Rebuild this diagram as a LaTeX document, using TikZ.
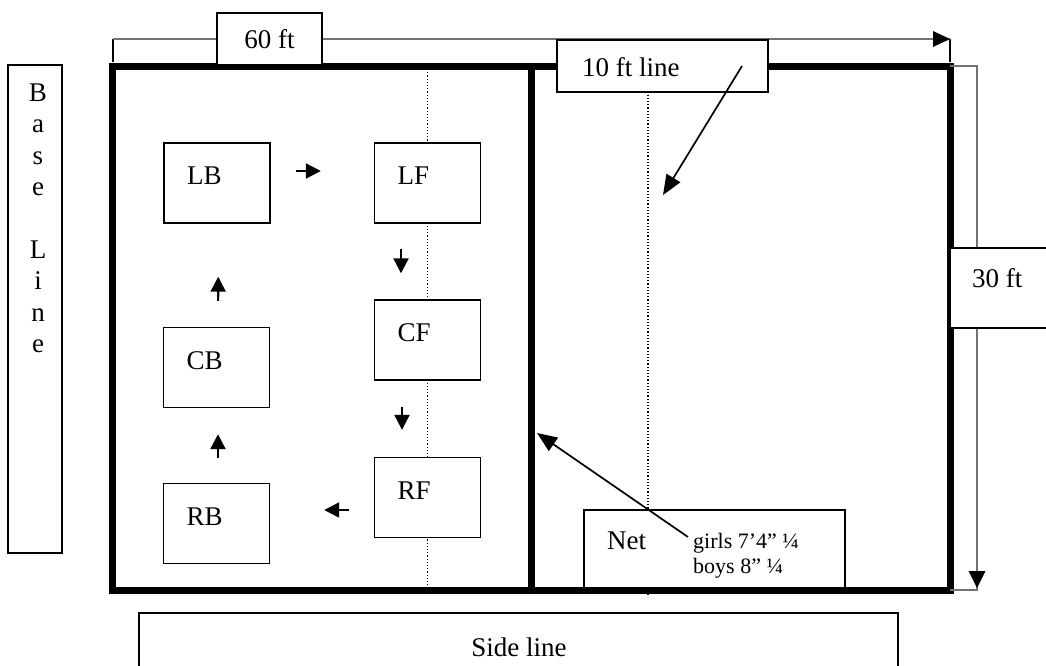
\documentclass[tikz,border=0pt]{standalone}
\usepackage{fontspec}
\setmainfont{Liberation Serif}
\usetikzlibrary{arrows.meta}
\begin{document}
\begin{tikzpicture}[x=1pt,y=-1pt,
  txt/.style={font=\fontsize{27}{31.4}\selectfont, inner sep=0pt},
  smalltxt/.style={font=\fontsize{22}{25}\selectfont, inner sep=0pt},
  thinbox/.style={draw=black, line width=1.4pt, fill=white, inner sep=0pt},
  posbox/.style={thinbox, minimum width=106pt, minimum height=80pt, text width=60pt,
     inner xsep=23pt, align=left, text height=19pt, text depth=16pt,
     font=\fontsize{27}{31.4}\selectfont},
  court/.style={line width=7pt, line cap=rect},
  dimline/.style={draw=black!55, line width=1.5pt},
  tick/.style={draw=black, line width=1.2pt},
  dots/.style={line width=1.3pt, dash pattern=on 1.2pt off 2pt},
  smallarrow/.style={line width=2.2pt, -{Triangle[length=15pt,width=15pt]}},
  longarrow/.style={line width=1.7pt, -{Triangle[length=20pt,width=16pt]}},
]
\useasboundingbox (0,0) rectangle (1046,665);

% court corners
\coordinate (tl) at (112,66);
\coordinate (tr) at (950,66);
\coordinate (bl) at (112,590);
\coordinate (br) at (950,590);
\coordinate (nt) at (531,66);
\coordinate (nb) at (531,590);

% dotted 10 ft lines
\coordinate (d1t) at (427.5,69);
\coordinate (d1b) at (427.5,587);
\coordinate (d2t) at (648,69);
\coordinate (d2b) at (648,597);
\draw[dots] (d1t) -- (d1b);
\draw[dots] (d2t) -- (d2b);

% court
\draw[court] (tl) rectangle (br);
\draw[court, line cap=butt] (nt) -- (nb);

% 60 ft dimension
\coordinate (w1) at (113,39);
\coordinate (w2) at (950,39);
\coordinate (w1b) at (113,62);
\coordinate (w2b) at (950,62);
\draw[tick] (w1b) -- (w1);
\draw[tick] (w2) -- (w2b);
\draw[dimline] (w1) -- (w2);
\fill[black] (950,39) -- (933,31) -- (933,47) -- cycle;

% 30 ft dimension
\coordinate (h1) at (950,66);
\coordinate (h1r) at (977,66);
\coordinate (h2r) at (977,590);
\coordinate (h2) at (950,590);
\draw[dimline] (h1) -- (h1r) -- (h2r) -- (h2);
\fill[black] (977,588) -- (968.5,571) -- (985.5,571) -- cycle;

% boxes
\node[thinbox, minimum width=105pt, minimum height=52pt, txt] (sixty) at (269.5,39) {60 ft};
\node[thinbox, minimum width=211pt, minimum height=52pt] (tenbox) at (662.5,66) {};
\node[txt, anchor=west] (tentxt) at (582,67) {10 ft line};
\node[thinbox, minimum width=54pt, minimum height=488pt] (base) at (35,309) {};
\node[txt, anchor=north, align=center] (basetxt) at (38,83.5) {B\\a\\s\\e\\[31.4pt]L\\i\\n\\e};
\node[thinbox, minimum width=110pt, minimum height=80pt] (thirty) at (1005,288) {};
\node[txt, anchor=west] (thirtytxt) at (972,278) {30 ft};
\node[thinbox, minimum width=261pt, minimum height=78pt] (net) at (714.5,549) {};
\node[txt, anchor=base west] (nettxt) at (607,549) {Net};
\node[smalltxt, anchor=base west] (girls) at (693,548) {girls 7’4” ¼};
\node[smalltxt, anchor=base west] (boys) at (693,573) {boys 8” ¼};
\node[thinbox, minimum width=759pt, minimum height=80pt] (side) at (518.5,653) {};
\node[txt, anchor=base] (sidetxt) at (519,656) {Side line};

% positions
\node[posbox] (LB) at (217,183) {LB};
\node[posbox] (LF) at (427.5,183) {LF};
\node[posbox] (CF) at (427.5,340) {CF};
\node[posbox] (RF) at (427.5,497.5) {RF};
\node[posbox] (CB) at (216.5,367.5) {CB};
\node[posbox] (RB) at (216.5,523.5) {RB};

% rotation arrows
\draw[smallarrow, shorten <=25pt, shorten >=53pt] ([yshift=12pt]LB.east) -- ([yshift=12pt]LF.west);
\draw[smallarrow, shorten <=25pt, shorten >=26pt] ([xshift=-26.5pt]LF.south) -- ([xshift=-26.5pt]CF.north);
\draw[smallarrow, shorten <=26pt, shorten >=27pt] ([xshift=-25.5pt]CF.south) -- ([xshift=-25.5pt]RF.north);
\draw[smallarrow, shorten <=25pt, shorten >=54pt] ([yshift=-12.5pt]RF.west) -- ([yshift=13.5pt]RB.east);
\draw[smallarrow, shorten <=25pt, shorten >=26pt] ([xshift=1.5pt]RB.north) -- ([xshift=1.5pt]CB.south);
\draw[smallarrow, shorten <=26pt, shorten >=53pt] ([xshift=1.5pt]CB.north) -- ([xshift=1.5pt]LB.south);

% pointer arrows
\coordinate (tenfrom) at (742,66);
\coordinate (tento) at (663,195);
\draw[longarrow] (tenfrom) -- (tento);
\coordinate (netfrom) at (688,537);
\coordinate (netto) at (537,433);
\draw[longarrow] (netfrom) -- (netto);
\end{tikzpicture}
\end{document}
